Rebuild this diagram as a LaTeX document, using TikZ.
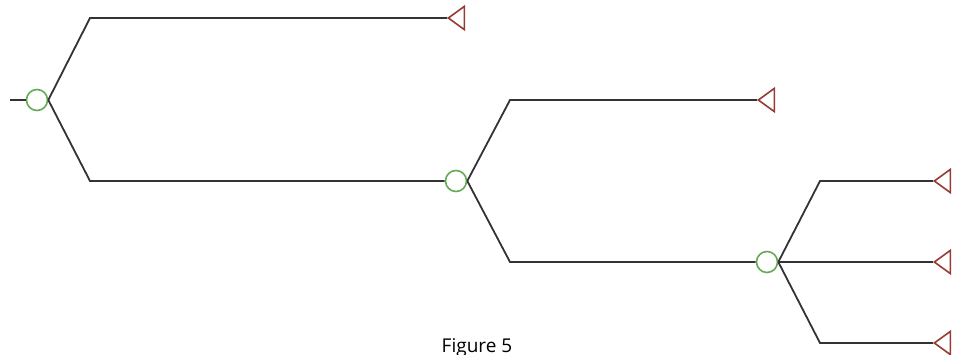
\documentclass[tikz,border=0pt]{standalone}
\usepackage{fontspec}
\setmainfont{Open Sans}
\usetikzlibrary{shapes.geometric}
\definecolor{edgec}{HTML}{333333}
\definecolor{chancec}{HTML}{66AA58}
\definecolor{endc}{HTML}{963C34}
\begin{document}
\begin{tikzpicture}[x=1pt,y=-1pt,
  chance/.style={circle,draw=chancec,line width=1.6pt,fill=white,minimum size=21pt,inner sep=0pt},
  term/.style={isosceles triangle,isosceles triangle apex angle=72,shape border rotate=180,draw=endc,line width=1.6pt,fill=white,minimum height=16pt,inner sep=0pt,anchor=apex},
  edge/.style={draw=edgec,line width=1.8pt}]
\useasboundingbox (0,0) rectangle (960,355);
\fill[white] (0,0) rectangle (960,355);
\coordinate (s) at (10,100);
\node[chance] (c1) at (37,100) {};
\node[chance] (c2) at (456,181) {};
\node[chance] (c3) at (767,262) {};
\node[term] (t1) at (447,18) {};
\node[term] (t2) at (757,100) {};
\node[term] (t3) at (933,181) {};
\node[term] (t4) at (933,262) {};
\node[term] (t5) at (933,343) {};
\draw[edge] (s) -- (c1.west);
\draw[edge] (c1.east) -- (90,18) -- (t1.apex);
\draw[edge] (c1.east) -- (90,181) -- (c2.west);
\draw[edge] (c2.east) -- (510,100) -- (t2.apex);
\draw[edge] (c2.east) -- (510,262) -- (c3.west);
\draw[edge] (c3.east) -- (820,181) -- (t3.apex);
\draw[edge] (c3.east) -- (t4.apex);
\draw[edge] (c3.east) -- (820,343) -- (t5.apex);
\node[font=\fontsize{19}{21}\selectfont,anchor=base] (cap) at (477,352) {Figure 5};
\end{tikzpicture}
\end{document}
